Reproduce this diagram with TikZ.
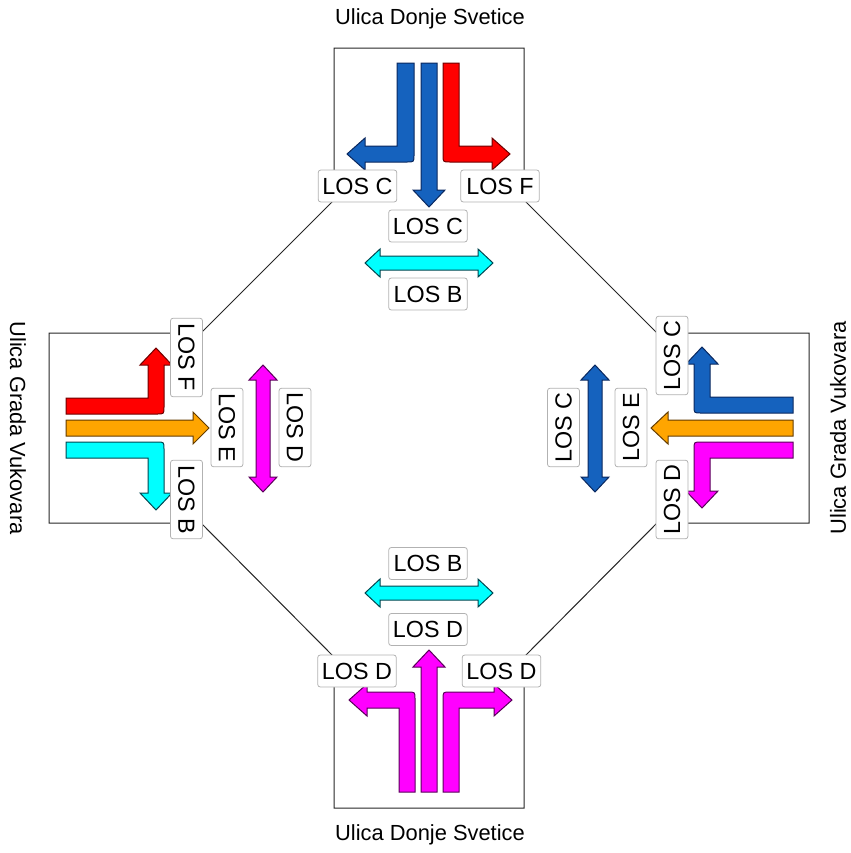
\documentclass[tikz,border=0pt]{standalone}
\usepackage{fontspec}
\setmainfont{Liberation Sans}
\definecolor{bfill}{RGB}{21,98,190}
\definecolor{bline}{RGB}{10,40,95}
\definecolor{rfill}{RGB}{255,0,0}
\definecolor{rline}{RGB}{110,0,0}
\definecolor{cfill}{RGB}{0,255,255}
\definecolor{cline}{RGB}{0,70,80}
\definecolor{ofill}{RGB}{255,165,0}
\definecolor{oline}{RGB}{100,60,0}
\definecolor{mfill}{RGB}{255,0,255}
\definecolor{mline}{RGB}{90,0,90}
\begin{document}
\begin{tikzpicture}[x=0.75pt,y=-0.75pt,
  los/.style={draw=black!30, fill=white, rounded corners=2pt, line width=0.6pt,
    minimum width=59pt, minimum height=24pt, inner sep=1pt,
    font=\fontsize{17.5}{18}\selectfont},
  street/.style={inner sep=0pt, font=\fontsize{16.4}{18}\selectfont},
  frame/.style={draw=black!85, line width=0.75pt},
  arr/.style={line width=0.75pt, line join=miter},
  barr/.style={arr, draw=bline, fill=bfill},
  rarr/.style={arr, draw=rline, fill=rfill},
  carr/.style={arr, draw=cline, fill=cfill},
  oarr/.style={arr, draw=oline, fill=ofill},
  marr/.style={arr, draw=mline, fill=mfill}]
\useasboundingbox (0,0) rectangle (850,853);

% outline
\coordinate (p1) at (334,48);  \coordinate (p2) at (524,48);
\coordinate (p3) at (524,200); \coordinate (p4) at (657,333);
\coordinate (p5) at (809,333); \coordinate (p6) at (809,523);
\coordinate (p7) at (657,523); \coordinate (p8) at (524,657);
\coordinate (p9) at (524,808); \coordinate (p10) at (334,808);
\coordinate (p11) at (334,657); \coordinate (p12) at (201,523);
\coordinate (p13) at (49,523); \coordinate (p14) at (49,333);
\coordinate (p15) at (201,333); \coordinate (p16) at (334,200);
\draw[frame] (p1)--(p2)--(p3)--(p4)--(p5)--(p6)--(p7)--(p8)--(p9)--(p10)--(p11)--(p12)--(p13)--(p14)--(p15)--(p16)--cycle;

% ---- top approach
\draw[barr] (397,63)--(414,63)--(414,155) .. controls (414,162) .. (407,162)--(365,162)--(365,170)--(347,154)--(365,138)--(365,146)--(397,146)--cycle;
\draw[barr] (421,63)--(437,63)--(437,190)--(445,190)--(429,207)--(413,190)--(421,190)--cycle;
\draw[rarr] (443,63)--(459,63)--(459,146)--(492,146)--(492,138)--(510,154)--(492,170)--(492,162)--(450,162) .. controls (443,162) .. (443,155)--cycle;
\draw[carr] (365,263)--(380,249)--(380,256)--(478,256)--(478,249)--(493,263)--(478,277)--(478,270)--(380,270)--(380,277)--cycle;

% ---- bottom approach
\draw[marr] (399,792)--(415,792)--(415,699) .. controls (415,692) .. (408,692)--(367,692)--(367,684)--(349,700)--(367,716)--(367,708)--(399,708)--cycle;
\draw[marr] (421,792)--(437,792)--(437,667)--(445,667)--(429,650)--(413,667)--(421,667)--cycle;
\draw[marr] (443,792)--(459,792)--(459,708)--(494,708)--(494,716)--(512,700)--(494,684)--(494,692)--(450,692) .. controls (443,692) .. (443,699)--cycle;
\draw[carr] (365,593)--(380,579)--(380,586)--(478,586)--(478,579)--(493,593)--(478,607)--(478,600)--(380,600)--(380,607)--cycle;

% ---- left approach
\draw[rarr] (66,398)--(148,398)--(148,365)--(140,365)--(156,348)--(172,365)--(164,365)--(164,407) .. controls (164,414) .. (157,414)--(66,414)--cycle;
\draw[oarr] (66,420)--(193,420)--(193,412)--(209,428)--(193,444)--(193,436)--(66,436)--cycle;
\draw[carr] (66,442)--(157,442) .. controls (164,442) .. (164,449)--(164,493)--(172,493)--(156,510)--(140,493)--(148,493)--(148,458)--(66,458)--cycle;
\draw[marr] (263,365)--(277,380)--(270,380)--(270,477)--(277,477)--(263,492)--(249,477)--(256,477)--(256,380)--(249,380)--cycle;

% ---- right approach
\draw[barr] (793,397)--(710,397)--(710,364)--(718,364)--(702,347)--(686,364)--(694,364)--(694,406) .. controls (694,413) .. (701,413)--(793,413)--cycle;
\draw[oarr] (793,420)--(668,420)--(668,412)--(651,428)--(668,444)--(668,436)--(793,436)--cycle;
\draw[marr] (793,442)--(701,442) .. controls (694,442) .. (694,449)--(694,491)--(686,491)--(702,508)--(718,491)--(710,491)--(710,458)--(793,458)--cycle;
\draw[barr] (595,365)--(609,380)--(602,380)--(602,477)--(609,477)--(595,492)--(581,477)--(588,477)--(588,380)--(581,380)--cycle;

% ---- labels
\node[los] (tl) at (357.5,186) {LOS C};
\node[los] (tr) at (500,186) {LOS F};
\node[los] (tm) at (428,226) {LOS C};
\node[los] (tp) at (428,294) {LOS B};

\node[los, rotate=-90] (lt) at (186.5,357.5) {LOS F};
\node[los, rotate=-90] (lb) at (186.5,499.5) {LOS B};
\node[los, rotate=-90] (lm) at (227,427.5) {LOS E};
\node[los, rotate=-90] (lp) at (295,427.5) {LOS D};

\node[los, rotate=90] (rt) at (672,355.5) {LOS C};
\node[los, rotate=90] (rb) at (672,499.5) {LOS D};
\node[los, rotate=90] (rm) at (631,427.5) {LOS E};
\node[los, rotate=90] (rp) at (563.5,427.5) {LOS C};

\node[los] (bl) at (357,671) {LOS D};
\node[los] (br) at (501.5,671) {LOS D};
\node[los] (bm) at (428,629.5) {LOS D};
\node[los] (bp) at (428,563.5) {LOS B};

% ---- street names
\node[street] (sn) at (430,19) {Ulica Donje Svetice};
\node[street] (ss) at (430,835) {Ulica Donje Svetice};
\node[street, rotate=-90] (sw) at (18,428) {Ulica Grada Vukovara};
\node[street, rotate=90] (se) at (838,428) {Ulica Grada Vukovara};
\end{tikzpicture}
\end{document}
